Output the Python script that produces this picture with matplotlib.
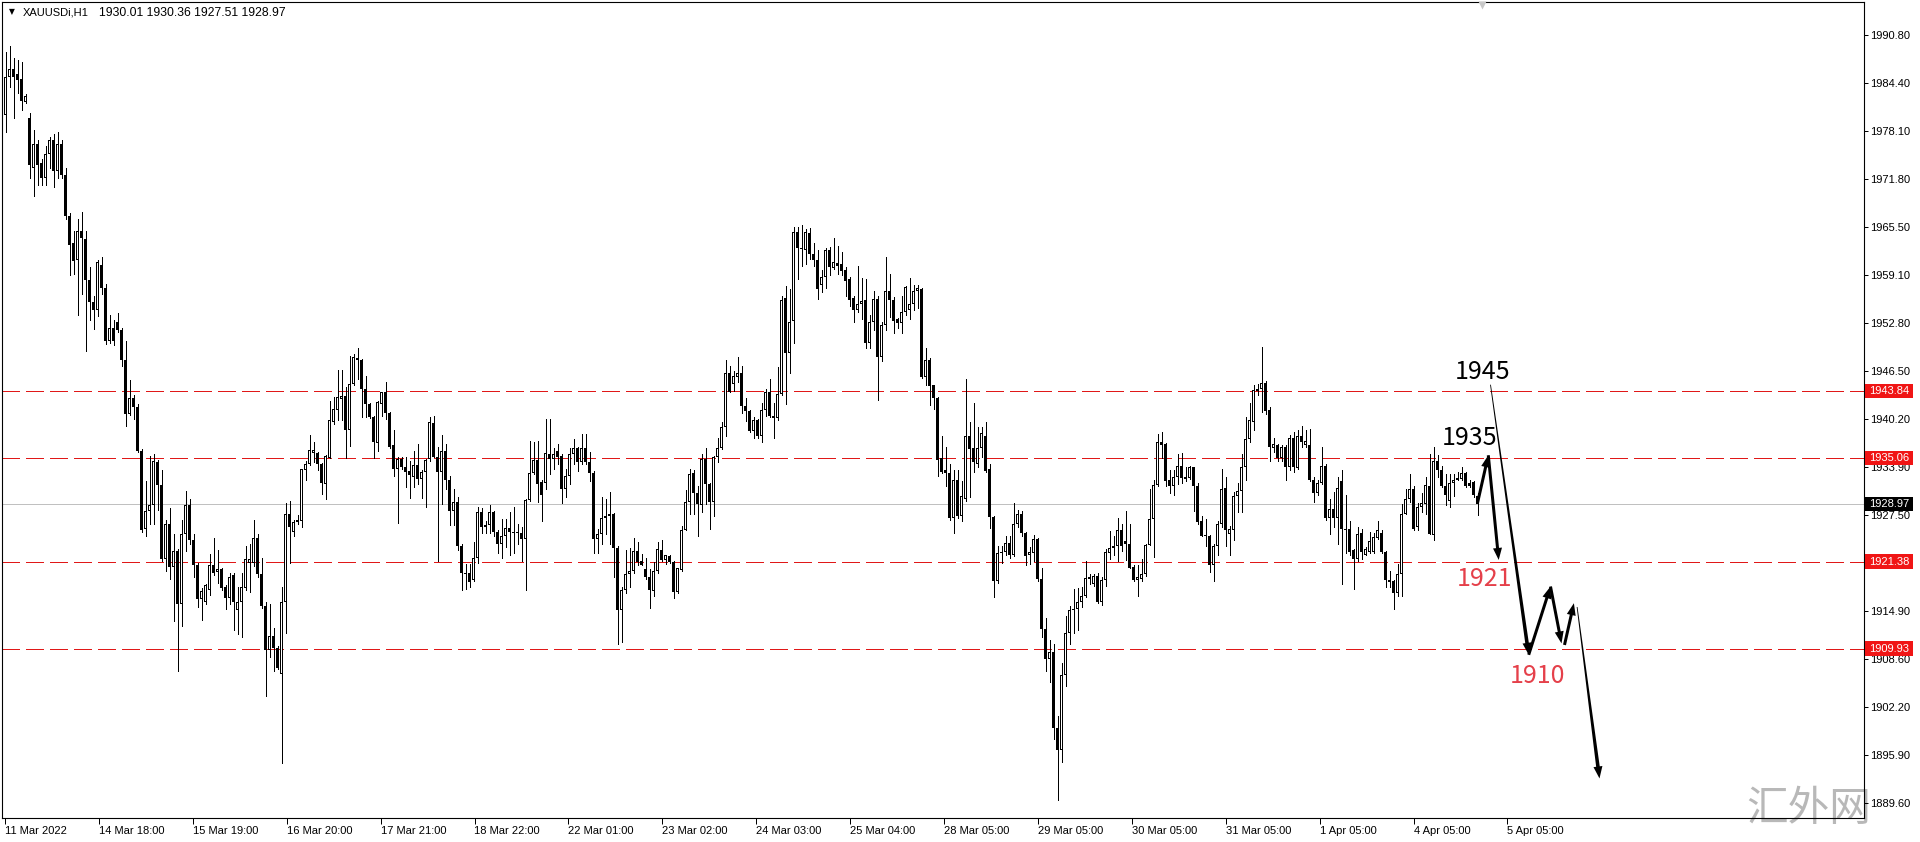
import numpy as np
import matplotlib
matplotlib.use("Agg")
import matplotlib.pyplot as plt
from matplotlib.patches import Polygon, Rectangle
from matplotlib.transforms import IdentityTransform, blended_transform_factory

plt.rcParams['font.family'] = ['Liberation Sans', 'DejaVu Sans']

# XAUUSDi H1 candles (11 Mar 2022 .. 4 Apr 2022)
opens = [
    1980.2, 1985.3, 1986.3, 1985.6, 1985.0, 1982.0, 1979.9, 1973.2, 1976.4, 1973.9,
    1972.0, 1975.1, 1977.0, 1972.9, 1976.4, 1972.3, 1967.0, 1963.4, 1961.2, 1964.9,
    1963.9, 1958.5, 1955.6, 1954.5, 1960.5, 1957.5, 1950.5, 1952.2, 1952.9, 1951.9,
    1948.0, 1940.9, 1942.9, 1941.8, 1935.9, 1925.7, 1928.0, 1928.9, 1934.5, 1931.5,
    1921.7, 1926.3, 1920.7, 1922.8, 1915.8, 1925.0, 1928.9, 1924.2, 1920.9, 1916.4,
    1916.1, 1917.7, 1920.9, 1920.0, 1920.4, 1918.0, 1916.6, 1919.6, 1915.0, 1916.1,
    1917.9, 1921.2, 1921.2, 1924.5, 1919.8, 1915.5, 1909.7, 1911.6, 1910.0, 1906.6,
    1916.1, 1927.6, 1925.3, 1926.6, 1926.8, 1933.5, 1934.3, 1935.7, 1935.7, 1934.3,
    1931.6, 1935.1, 1939.8, 1941.3, 1942.8, 1943.2, 1938.7, 1944.8, 1948.2, 1947.9,
    1944.1, 1942.2, 1940.5, 1937.0, 1942.1, 1943.7, 1941.0, 1936.7, 1933.6, 1934.9,
    1933.9, 1933.3, 1932.5, 1934.1, 1932.3, 1933.2, 1934.9, 1939.7, 1935.2, 1933.2,
    1936.0, 1932.2, 1928.1, 1929.2, 1923.5, 1919.9, 1919.9, 1918.9, 1921.8, 1927.9,
    1925.9, 1926.2, 1927.9, 1925.3, 1923.7, 1924.8, 1925.8, 1925.1, 1925.1, 1925.2,
    1924.4, 1929.5, 1933.1, 1934.8, 1931.9, 1931.7, 1935.6, 1934.9, 1936.0, 1935.3,
    1930.9, 1932.7, 1935.6, 1936.4, 1934.5, 1936.4, 1934.5, 1933.1, 1924.4, 1925.0,
    1927.1, 1927.4, 1927.7, 1923.2, 1915.0, 1917.7, 1919.8, 1920.1, 1922.8, 1921.4,
    1920.4, 1919.4, 1917.5, 1920.1, 1922.9, 1921.6, 1922.1, 1921.3, 1917.4, 1920.3,
    1925.6, 1929.2, 1933.0, 1930.4, 1928.8, 1934.9, 1931.6, 1929.2, 1935.2, 1936.4,
    1939.1, 1946.3, 1944.8, 1945.7, 1946.2, 1941.9, 1941.2, 1938.6, 1940.0, 1938.0,
    1941.3, 1943.8, 1940.6, 1940.3, 1943.5, 1956.1, 1948.9, 1953.1, 1964.8, 1962.6,
    1962.4, 1964.7, 1961.9, 1961.2, 1957.9, 1958.9, 1962.4, 1960.1, 1960.7, 1960.6,
    1959.8, 1958.6, 1956.1, 1954.5, 1955.3, 1955.9, 1950.2, 1953.0, 1956.0, 1948.3,
    1952.6, 1957.0, 1955.8, 1953.3, 1952.8, 1954.3, 1954.5, 1955.4, 1957.0, 1957.3,
    1945.7, 1948.0, 1944.6, 1943.0, 1935.0, 1933.4, 1933.0, 1927.1, 1932.1, 1927.4,
    1929.7, 1938.0, 1936.3, 1934.3, 1936.3, 1938.0, 1933.6, 1927.2, 1918.8, 1922.5,
    1922.7, 1923.9, 1922.2, 1926.4, 1927.7, 1925.1, 1922.3, 1922.5, 1924.4, 1919.1,
    1912.5, 1908.5, 1909.5, 1899.5, 1896.5, 1906.5, 1912.0, 1915.0, 1915.1, 1916.0,
    1916.8, 1919.1, 1918.4, 1919.5, 1916.0, 1918.9, 1922.5, 1923.2, 1923.4, 1925.6,
    1924.1, 1923.7, 1920.7, 1919.0, 1919.1, 1919.7, 1923.6, 1927.0, 1931.5, 1937.2,
    1936.9, 1932.1, 1931.4, 1932.6, 1934.0, 1932.3, 1932.4, 1933.8, 1931.4, 1926.7,
    1924.9, 1924.8, 1920.9, 1923.4, 1926.3, 1931.1, 1925.0, 1925.6, 1930.0, 1930.7,
    1933.9, 1937.6, 1939.8, 1944.1, 1944.1, 1944.9, 1941.4, 1936.4, 1936.7, 1935.1,
    1936.5, 1933.9, 1937.7, 1933.7, 1938.0, 1936.7, 1936.7, 1932.1, 1930.4, 1931.8,
    1934.0, 1927.1, 1928.3, 1927.1, 1932.0, 1925.7, 1925.7, 1922.9, 1921.7, 1925.2,
    1922.3, 1922.7, 1922.7, 1924.5, 1925.2, 1922.6, 1919.0, 1918.8, 1917.3, 1919.8,
    1927.7, 1929.6, 1931.0, 1925.9, 1928.6, 1929.0, 1931.4, 1924.9, 1934.6, 1933.5,
    1931.4, 1929.4, 1931.8, 1932.1, 1932.3, 1933.0, 1931.7, 1931.9, 1930.01,
]
highs = [
    1988.5, 1989.4, 1987.8, 1987.5, 1987.2, 1983.0, 1980.5, 1978.3, 1977.0, 1974.5,
    1976.1, 1977.4, 1977.7, 1978.0, 1977.0, 1973.2, 1967.3, 1965.0, 1966.6, 1967.5,
    1965.0, 1960.2, 1956.4, 1961.2, 1961.5, 1958.0, 1953.9, 1953.2, 1954.2, 1952.2,
    1950.4, 1945.3, 1943.4, 1942.1, 1936.2, 1932.0, 1935.3, 1935.5, 1934.8, 1933.4,
    1926.9, 1928.5, 1925.0, 1923.1, 1926.9, 1930.7, 1929.7, 1925.0, 1921.2, 1917.9,
    1918.4, 1922.4, 1924.5, 1922.9, 1920.5, 1918.3, 1919.9, 1919.9, 1918.0, 1919.9,
    1923.4, 1923.7, 1926.9, 1925.0, 1921.8, 1916.1, 1915.8, 1912.6, 1910.3, 1918.0,
    1929.1, 1929.4, 1926.9, 1927.5, 1933.6, 1934.7, 1938.1, 1937.1, 1935.8, 1934.4,
    1935.4, 1942.6, 1943.1, 1946.6, 1946.6, 1944.4, 1948.5, 1948.8, 1949.5, 1948.1,
    1945.8, 1942.3, 1940.6, 1942.5, 1943.8, 1945.0, 1941.1, 1938.7, 1935.2, 1935.2,
    1935.2, 1934.6, 1935.9, 1936.9, 1933.4, 1934.9, 1940.5, 1940.6, 1936.5, 1938.1,
    1936.9, 1932.7, 1931.0, 1929.9, 1923.7, 1921.1, 1921.1, 1924.0, 1928.6, 1928.4,
    1926.8, 1928.8, 1928.1, 1925.5, 1927.0, 1927.0, 1927.9, 1928.6, 1926.4, 1926.0,
    1929.7, 1937.3, 1937.1, 1937.3, 1932.2, 1940.2, 1940.2, 1936.4, 1936.9, 1935.5,
    1933.6, 1936.3, 1937.5, 1936.5, 1938.2, 1938.2, 1935.8, 1933.3, 1925.7, 1929.9,
    1929.6, 1930.5, 1927.8, 1923.5, 1918.0, 1922.9, 1923.2, 1924.5, 1924.0, 1922.4,
    1921.9, 1920.4, 1921.3, 1924.0, 1924.2, 1922.3, 1922.2, 1921.4, 1920.6, 1926.1,
    1930.8, 1933.6, 1933.5, 1931.3, 1935.5, 1936.3, 1931.8, 1935.3, 1937.7, 1939.8,
    1948.0, 1947.2, 1946.5, 1948.3, 1947.2, 1943.0, 1941.3, 1940.4, 1940.2, 1942.3,
    1944.1, 1945.5, 1942.3, 1947.0, 1956.4, 1957.7, 1957.3, 1965.5, 1965.5, 1965.8,
    1965.2, 1965.4, 1963.4, 1962.4, 1959.8, 1962.7, 1962.9, 1964.0, 1963.0, 1962.2,
    1960.2, 1958.9, 1956.4, 1960.3, 1958.8, 1958.6, 1953.9, 1957.1, 1956.4, 1953.0,
    1961.5, 1959.3, 1956.3, 1953.5, 1956.4, 1957.7, 1958.8, 1957.9, 1957.9, 1957.4,
    1949.5, 1948.2, 1944.7, 1943.1, 1938.0, 1936.5, 1934.2, 1933.4, 1933.4, 1932.0,
    1945.4, 1939.8, 1942.3, 1939.1, 1939.1, 1939.8, 1934.2, 1927.4, 1923.4, 1923.4,
    1924.7, 1924.8, 1929.1, 1928.2, 1928.1, 1925.3, 1923.3, 1924.9, 1924.5, 1920.5,
    1914.0, 1911.0, 1910.5, 1901.0, 1908.0, 1914.2, 1915.5, 1917.8, 1917.9, 1918.0,
    1921.4, 1919.7, 1919.7, 1919.9, 1919.3, 1923.0, 1925.4, 1924.8, 1927.1, 1926.3,
    1928.1, 1926.3, 1920.9, 1920.9, 1921.7, 1923.7, 1931.0, 1932.1, 1938.2, 1938.4,
    1937.0, 1933.4, 1933.4, 1935.6, 1935.7, 1933.8, 1934.0, 1933.9, 1931.8, 1927.4,
    1927.0, 1924.9, 1923.7, 1926.8, 1933.6, 1932.5, 1926.1, 1930.5, 1931.8, 1935.6,
    1940.4, 1942.3, 1944.7, 1944.8, 1949.7, 1945.2, 1941.7, 1937.7, 1936.9, 1936.7,
    1936.7, 1938.1, 1938.4, 1938.7, 1939.2, 1938.7, 1938.9, 1932.5, 1932.1, 1936.5,
    1934.3, 1929.6, 1930.5, 1932.5, 1933.4, 1930.2, 1926.7, 1923.0, 1925.9, 1925.7,
    1923.3, 1925.3, 1925.1, 1926.7, 1925.5, 1922.8, 1920.2, 1918.9, 1921.1, 1929.0,
    1931.0, 1932.9, 1931.4, 1929.1, 1930.4, 1932.6, 1935.6, 1936.5, 1935.4, 1934.0,
    1932.9, 1932.9, 1932.9, 1933.2, 1933.8, 1933.2, 1932.1, 1932.0, 1930.36,
]
lows = [
    1978.0, 1984.0, 1979.9, 1983.1, 1980.9, 1981.8, 1972.0, 1969.6, 1971.0, 1971.0,
    1971.0, 1973.2, 1970.7, 1971.9, 1971.9, 1966.6, 1959.1, 1959.3, 1953.9, 1956.7,
    1949.2, 1953.2, 1952.0, 1953.8, 1956.7, 1950.0, 1950.2, 1949.9, 1951.6, 1947.1,
    1939.3, 1940.7, 1940.2, 1935.8, 1925.3, 1924.7, 1926.3, 1926.3, 1928.2, 1921.5,
    1920.2, 1919.1, 1913.5, 1906.9, 1912.9, 1922.8, 1923.7, 1919.4, 1915.4, 1913.7,
    1915.8, 1917.0, 1919.6, 1918.6, 1917.7, 1915.2, 1915.8, 1912.4, 1911.9, 1911.5,
    1917.7, 1917.4, 1920.8, 1919.4, 1915.3, 1903.7, 1908.8, 1906.9, 1907.2, 1894.8,
    1912.0, 1921.2, 1924.7, 1926.3, 1925.9, 1932.1, 1934.1, 1934.5, 1933.4, 1930.3,
    1929.7, 1935.0, 1939.5, 1940.1, 1940.1, 1935.1, 1936.6, 1944.7, 1945.5, 1940.4,
    1940.5, 1940.3, 1935.1, 1936.0, 1940.6, 1940.2, 1936.4, 1932.7, 1926.5, 1933.6,
    1931.2, 1929.8, 1931.2, 1931.6, 1929.8, 1928.6, 1934.7, 1935.2, 1921.5, 1929.0,
    1931.0, 1926.2, 1926.2, 1922.9, 1917.7, 1917.8, 1918.0, 1918.8, 1921.2, 1925.1,
    1925.1, 1925.1, 1924.7, 1922.5, 1921.8, 1923.3, 1922.3, 1922.5, 1923.7, 1921.5,
    1917.7, 1929.4, 1932.9, 1929.2, 1926.8, 1931.0, 1932.9, 1933.6, 1934.2, 1929.1,
    1929.9, 1931.6, 1934.2, 1933.3, 1934.2, 1934.2, 1932.0, 1922.5, 1922.5, 1923.7,
    1925.0, 1923.7, 1919.4, 1910.5, 1910.8, 1917.3, 1918.0, 1919.9, 1921.0, 1920.9,
    1919.1, 1915.3, 1916.8, 1919.9, 1921.4, 1921.1, 1921.2, 1916.6, 1917.3, 1920.2,
    1925.5, 1927.7, 1927.6, 1924.8, 1927.9, 1929.0, 1925.7, 1927.4, 1934.5, 1936.2,
    1938.0, 1943.8, 1943.9, 1945.1, 1941.0, 1939.9, 1938.4, 1937.7, 1937.7, 1937.2,
    1940.6, 1940.4, 1937.7, 1940.0, 1943.3, 1942.2, 1946.2, 1950.2, 1958.6, 1960.3,
    1960.6, 1961.3, 1960.4, 1956.0, 1956.9, 1957.4, 1959.1, 1959.9, 1959.3, 1959.1,
    1956.4, 1955.1, 1952.9, 1954.3, 1953.4, 1949.5, 1949.5, 1951.9, 1942.7, 1947.8,
    1951.9, 1953.6, 1951.5, 1952.2, 1951.5, 1953.9, 1953.3, 1954.5, 1954.8, 1945.6,
    1944.6, 1942.0, 1941.5, 1932.7, 1933.1, 1931.4, 1926.9, 1925.1, 1927.1, 1926.8,
    1929.4, 1929.9, 1933.2, 1933.8, 1935.2, 1933.2, 1925.8, 1916.7, 1918.6, 1921.2,
    1922.2, 1921.8, 1922.1, 1925.9, 1924.8, 1921.0, 1921.1, 1921.5, 1918.8, 1911.5,
    1907.0, 1905.5, 1898.0, 1890.0, 1895.0, 1905.0, 1910.5, 1912.0, 1912.4, 1915.4,
    1916.7, 1918.4, 1918.2, 1915.9, 1915.6, 1918.2, 1921.7, 1922.2, 1921.5, 1922.8,
    1921.6, 1920.5, 1918.8, 1916.8, 1918.8, 1919.5, 1923.6, 1922.0, 1931.4, 1935.1,
    1931.4, 1930.4, 1930.2, 1931.6, 1931.8, 1932.0, 1932.3, 1928.1, 1926.3, 1924.7,
    1923.5, 1920.0, 1918.8, 1922.3, 1925.9, 1923.5, 1922.2, 1924.2, 1927.9, 1927.9,
    1932.1, 1937.1, 1938.7, 1943.3, 1941.1, 1940.9, 1934.7, 1935.8, 1934.7, 1934.7,
    1932.1, 1933.4, 1933.2, 1933.6, 1936.5, 1936.5, 1932.0, 1929.2, 1930.2, 1931.6,
    1926.9, 1925.0, 1925.9, 1923.7, 1918.4, 1922.5, 1922.3, 1917.8, 1921.5, 1921.7,
    1922.2, 1922.5, 1922.5, 1924.4, 1922.5, 1918.1, 1918.0, 1915.1, 1916.9, 1916.8,
    1927.6, 1929.2, 1925.6, 1925.6, 1927.9, 1927.6, 1925.0, 1924.2, 1932.5, 1931.2,
    1928.8, 1928.6, 1930.0, 1932.1, 1932.1, 1931.2, 1931.2, 1929.9, 1927.51,
]
closes = [
    1985.3, 1986.3, 1985.3, 1984.8, 1982.1, 1982.8, 1973.6, 1976.4, 1973.6, 1972.0,
    1975.1, 1977.0, 1972.9, 1976.4, 1972.3, 1967.0, 1963.1, 1961.0, 1964.9, 1964.0,
    1958.5, 1955.6, 1954.5, 1960.9, 1957.5, 1950.5, 1952.2, 1950.5, 1951.9, 1948.0,
    1940.9, 1942.9, 1941.8, 1935.9, 1925.6, 1928.0, 1928.9, 1934.6, 1931.5, 1921.7,
    1926.3, 1920.7, 1922.8, 1915.8, 1925.0, 1928.9, 1924.2, 1920.9, 1916.4, 1917.5,
    1918.3, 1920.9, 1919.9, 1920.4, 1917.9, 1916.6, 1919.3, 1916.1, 1916.1, 1918.0,
    1921.7, 1921.7, 1924.5, 1919.8, 1915.5, 1909.7, 1911.6, 1910.0, 1907.3, 1916.1,
    1927.6, 1925.9, 1926.6, 1926.9, 1933.6, 1934.3, 1936.1, 1936.1, 1934.3, 1931.7,
    1935.3, 1940.0, 1941.5, 1943.1, 1943.2, 1938.7, 1944.8, 1948.4, 1947.9, 1944.1,
    1942.2, 1940.4, 1937.1, 1942.4, 1943.7, 1941.0, 1936.5, 1933.6, 1934.9, 1933.8,
    1933.2, 1932.8, 1934.1, 1932.3, 1933.2, 1934.8, 1939.8, 1935.2, 1933.2, 1936.0,
    1932.2, 1928.0, 1929.2, 1923.4, 1919.9, 1919.7, 1918.7, 1921.9, 1927.9, 1926.0,
    1926.2, 1927.9, 1925.3, 1923.7, 1924.8, 1925.8, 1925.3, 1925.3, 1925.3, 1924.4,
    1929.5, 1933.1, 1934.8, 1931.6, 1930.2, 1935.7, 1934.9, 1935.6, 1935.2, 1930.9,
    1932.7, 1935.5, 1936.4, 1934.5, 1936.4, 1934.5, 1933.1, 1924.4, 1925.0, 1927.1,
    1927.4, 1927.7, 1923.2, 1915.0, 1917.7, 1919.8, 1920.2, 1922.8, 1921.3, 1921.0,
    1919.4, 1917.7, 1920.1, 1923.1, 1921.6, 1922.2, 1921.3, 1917.4, 1920.5, 1925.6,
    1929.2, 1932.9, 1930.4, 1929.0, 1934.9, 1931.6, 1929.2, 1935.2, 1936.4, 1939.1,
    1946.2, 1943.8, 1945.8, 1946.3, 1941.9, 1941.2, 1938.6, 1940.0, 1938.0, 1941.3,
    1943.8, 1940.6, 1940.3, 1943.5, 1955.9, 1948.9, 1953.0, 1964.8, 1962.7, 1962.7,
    1964.8, 1961.9, 1961.2, 1957.3, 1958.9, 1962.4, 1960.2, 1960.9, 1960.4, 1959.7,
    1958.4, 1955.9, 1954.5, 1955.4, 1955.7, 1950.2, 1953.0, 1956.0, 1948.3, 1952.6,
    1957.0, 1955.8, 1953.1, 1952.8, 1954.3, 1957.6, 1955.4, 1957.0, 1957.4, 1945.7,
    1948.0, 1944.5, 1942.9, 1934.8, 1933.2, 1933.1, 1927.1, 1932.1, 1927.4, 1930.0,
    1938.0, 1936.2, 1934.5, 1936.3, 1938.3, 1933.3, 1927.2, 1918.8, 1922.5, 1922.7,
    1923.9, 1922.2, 1926.4, 1927.7, 1925.1, 1922.1, 1922.6, 1924.4, 1919.1, 1912.5,
    1908.5, 1909.5, 1899.5, 1896.5, 1906.5, 1912.0, 1915.0, 1915.1, 1916.0, 1916.8,
    1919.2, 1919.3, 1919.5, 1916.0, 1918.9, 1922.7, 1923.2, 1923.4, 1925.6, 1923.4,
    1923.7, 1920.6, 1919.0, 1919.3, 1919.8, 1923.6, 1927.0, 1931.5, 1937.2, 1936.8,
    1932.0, 1931.4, 1932.6, 1934.0, 1932.4, 1932.5, 1933.8, 1931.4, 1926.6, 1924.8,
    1924.8, 1920.9, 1923.4, 1926.3, 1931.0, 1925.6, 1925.7, 1930.0, 1930.7, 1933.9,
    1937.6, 1940.0, 1944.0, 1943.9, 1944.9, 1941.2, 1936.5, 1936.9, 1935.1, 1936.5,
    1933.9, 1937.7, 1933.8, 1938.0, 1937.2, 1937.3, 1932.1, 1930.4, 1931.8, 1934.0,
    1927.1, 1928.3, 1927.1, 1931.1, 1925.7, 1925.6, 1922.6, 1921.7, 1925.0, 1922.6,
    1923.0, 1924.1, 1924.6, 1925.5, 1922.6, 1919.0, 1918.7, 1917.3, 1919.8, 1927.7,
    1929.6, 1931.0, 1925.7, 1928.6, 1929.1, 1931.5, 1925.0, 1934.6, 1933.5, 1931.4,
    1930.2, 1931.8, 1932.1, 1932.4, 1933.0, 1931.4, 1931.4, 1930.1, 1928.97,
]

levels = [1943.84, 1935.06, 1921.38, 1909.93]
last_price = 1928.97
price_ticks = [1990.80, 1984.40, 1978.10, 1971.80, 1965.50, 1959.10, 1952.80, 1946.50,
               1940.20, 1933.90, 1927.50, 1921.20, 1914.90, 1908.60, 1902.20, 1895.90, 1889.60]
date_labels = ["11 Mar 2022", "14 Mar 18:00", "15 Mar 19:00", "16 Mar 20:00", "17 Mar 21:00",
               "18 Mar 22:00", "22 Mar 01:00", "23 Mar 02:00", "24 Mar 03:00", "25 Mar 04:00",
               "28 Mar 05:00", "29 Mar 05:00", "30 Mar 05:00", "31 Mar 05:00", "1 Apr 05:00",
               "4 Apr 05:00", "5 Apr 05:00"]

# hand-drawn forecast: segments (bar0, price0, bar1, price1, tapered)
forecast = [
    (368.0, 1929.1, 370.7, 1935.4, False),
    (370.7, 1935.4, 373.3, 1921.6, False),
    (371.25, 1944.7, 380.8, 1909.1, True),
    (380.8, 1909.1, 386.25, 1918.1, False),
    (386.25, 1918.1, 389.0, 1910.6, False),
    (389.75, 1910.4, 392.1, 1915.9, False),
    (392.9, 1915.4, 398.5, 1892.8, True),
]
forecast_text = [("1945", 369.25, 1946.4, "black"), ("1935", 365.9, 1937.7, "black"),
                 ("1921", 369.75, 1919.1, "#e5404a"), ("1910", 383.0, 1906.3, "#e5404a")]

W, H = 1920, 842
fig = plt.figure(figsize=(W / 100, H / 100), dpi=100)
ax = fig.add_axes([2 / W, 24 / H, 1862 / W, 816 / H])
ax.set_xlim(-0.875, 464.625)
ax.set_ylim(1887.59, 1995.14)
px = (1995.14 - 1887.59) / 816   # price per pixel

o = np.array(opens)
hi = np.array(highs)
lo = np.array(lows)
c = np.array(closes)
x = np.arange(len(c))

# levels and bid line
for lv in levels:
    ax.axhline(lv, color="#e01818", lw=0.72, dashes=(18, 6), antialiased=False, zorder=1)
ax.axhline(last_price, color="#c0c0c0", lw=0.72, antialiased=False, zorder=0.9)

# candles: 1px wick, 3px body, white body keeps a 1px black outline
ax.vlines(x, lo, hi, colors="black", lw=0.7, antialiased=False, zorder=2)
bot = np.minimum(o, c)
top = np.maximum(o, c)
ax.bar(x, np.maximum(top - bot, px), bottom=bot, width=0.7, color="black",
       linewidth=0, antialiased=False, zorder=3)
up = (c > o) & (top - bot > 2.2 * px)
ax.bar(x[up], (top - bot)[up] - 2 * px, bottom=bot[up] + px, width=0.2, color="white",
       linewidth=0, antialiased=False, zorder=4)

# axes look
for s in ax.spines.values():
    s.set_linewidth(0.8)
    s.set_color("black")
ax.yaxis.tick_right()
ax.set_yticks(price_ticks)
ax.set_yticklabels([f"{p:.2f}" for p in price_ticks])
ax.tick_params(axis="y", direction="out", length=3, width=0.72, pad=1.5, labelsize=8)
step = 23.475
ax.set_xticks([i * step - 0.125 for i in range(len(date_labels))])
ax.set_xticklabels(date_labels, ha="left")
ax.tick_params(axis="x", direction="out", length=4, width=0.72, pad=1.5, labelsize=8)

# price boxes on the right scale
tr = blended_transform_factory(ax.transAxes, ax.transData)
bx0, bw, hh = 1.0003, 48 / 1862, 0.95
for lv in levels:
    ax.add_patch(Rectangle((bx0, lv - hh), bw, 2 * hh, transform=tr, facecolor="#f01515",
                           edgecolor="none", clip_on=False, zorder=5))
    ax.text(1.0027, lv, f"{lv:.2f}", transform=tr, color="white", fontsize=8,
            va="center", ha="left", clip_on=False, zorder=6)
ax.add_patch(Rectangle((bx0, last_price - hh), bw, 2 * hh, transform=tr, facecolor="black",
                       edgecolor="none", clip_on=False, zorder=5))
ax.text(1.0027, last_price, f"{last_price:.2f}", transform=tr, color="white", fontsize=8,
        va="center", ha="left", clip_on=False, zorder=6)


def arrow(x0, y0, x1, y1, w0, w1, head_len=12, head_w=9):
    p0 = ax.transData.transform((x0, y0))
    p1 = ax.transData.transform((x1, y1))
    d = p1 - p0
    u = d / np.hypot(*d)
    n = np.array([-u[1], u[0]])
    b = p1 - u * head_len
    pts = [p0 + n * w0 / 2, b + n * w1 / 2, b + n * head_w / 2, p1,
           b - n * head_w / 2, b - n * w1 / 2, p0 - n * w0 / 2]
    ax.add_patch(Polygon(pts, closed=True, transform=IdentityTransform(), facecolor="black",
                         edgecolor="none", clip_on=False, zorder=7))


for x0, y0, x1, y1, tap in forecast:
    if tap:
        arrow(x0, y0, x1, y1, 0.8, 3.6)
    else:
        arrow(x0, y0, x1, y1, 3.0, 3.0)

for s, tx, ty, col in forecast_text:
    ax.text(tx, ty, s, fontsize=18, color=col, ha="center", va="center",
            family=["Noto Sans CJK SC", "DejaVu Sans"], zorder=8)

# header
fig.text(11.5 / W, 1 - 12 / H, "\u25bc", fontsize=5.5, ha="center", va="center",
         family="DejaVu Sans")
fig.text(22.7 / W, 1 - 12.5 / H, "XAUUSDi,H1", fontsize=8, va="center")
fig.text(99.3 / W, 1 - 12.5 / H,
         f"{opens[-1]:.2f} {highs[-1]:.2f} {lows[-1]:.2f} {closes[-1]:.2f}",
         fontsize=8.8, va="center")

# chart shift marker
ax.plot([0.795], [1 - 3 / 816], marker="v", ms=6, color="#c8c8c8", mec="none",
        transform=ax.transAxes, clip_on=False, zorder=9)

# watermark
ax.text(1809 / W, 1 - 810 / H, "汇外网", transform=fig.transFigure, fontsize=30,
        color="#b8b8b8", ha="center", va="center", family=["Noto Sans CJK SC", "DejaVu Sans"],
        zorder=0.5, clip_on=False)

fig.savefig("out.png", dpi=100, facecolor="white")
